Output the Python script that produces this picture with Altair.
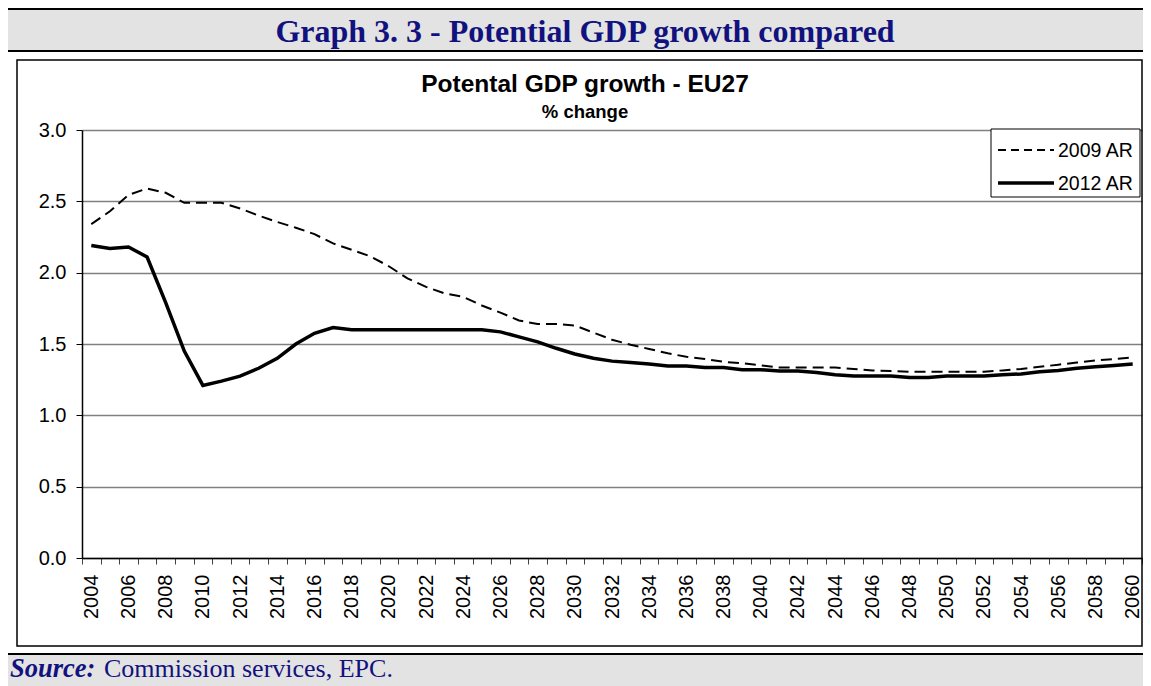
import altair as alt
import pandas as pd

# ---------------- data ----------------
years = list(range(2004, 2061))

ar2009 = [2.34, 2.43, 2.545, 2.59, 2.56, 2.49, 2.49, 2.49, 2.45, 2.40,
          2.355, 2.315, 2.27, 2.205, 2.16, 2.115, 2.045, 1.96, 1.90, 1.855,
          1.83, 1.77, 1.72, 1.665, 1.64, 1.64, 1.63, 1.58, 1.53, 1.495,
          1.465, 1.435, 1.41, 1.395, 1.375, 1.365, 1.35, 1.335, 1.335, 1.335,
          1.335, 1.325, 1.315, 1.31, 1.305, 1.305, 1.305, 1.305, 1.305, 1.315,
          1.325, 1.34, 1.355, 1.37, 1.385, 1.395, 1.405]

ar2012 = [2.19, 2.17, 2.18, 2.11, 1.79, 1.45, 1.21, 1.24, 1.275, 1.33,
          1.40, 1.50, 1.575, 1.615, 1.60, 1.60, 1.60, 1.60, 1.60, 1.60,
          1.60, 1.60, 1.585, 1.55, 1.515, 1.47, 1.43, 1.40, 1.38, 1.37,
          1.36, 1.345, 1.345, 1.335, 1.335, 1.32, 1.32, 1.31, 1.31, 1.30,
          1.285, 1.275, 1.275, 1.275, 1.265, 1.265, 1.275, 1.275, 1.275, 1.285,
          1.29, 1.305, 1.315, 1.33, 1.34, 1.35, 1.36]

series_names = ["2009 AR", "2012 AR"]
y_ticks = [0.0, 0.5, 1.0, 1.5, 2.0, 2.5, 3.0]

header_title = "Graph 3. 3 - Potential GDP growth compared"
chart_title = "Potental GDP growth - EU27"
chart_subtitle = "% change"
source_label = "Source:"
source_text = "Commission services, EPC."

df = pd.DataFrame({
    "year": years + years,
    "value": ar2009 + ar2012,
    "series": [series_names[0]] * len(years) + [series_names[1]] * len(years),
})

# ---------------- style ----------------
W, H = 1060, 428
SANS = "Liberation Sans"
SERIF = "Liberation Serif"
NAVY = "#12127e"
BAND = "#e3e3e3"
RIGHT = 1061  # right edge of the drawing, relative to the plot origin

one = alt.Data(values=[{"k": 0}])


def box(x, x2, y, y2, **kw):
    return alt.Chart(one).mark_rect(**kw).encode(
        x=alt.value(x), x2=alt.value(x2), y=alt.value(y), y2=alt.value(y2))


def hline(x, x2, y, **kw):
    return alt.Chart(one).mark_rule(**kw).encode(
        x=alt.value(x), x2=alt.value(x2), y=alt.value(y))


def label(x, y, txt, **kw):
    return alt.Chart(one).mark_text(**kw).encode(
        x=alt.value(x), y=alt.value(y), text=alt.value(txt))


x_enc = alt.X(
    "year:O",
    scale=alt.Scale(type="band", paddingInner=0, paddingOuter=0),
    axis=alt.Axis(
        title=None, labelAngle=270,
        labelExpr="datum.value % 2 == 0 ? datum.label : ''",
        labelOverlap=False, tickBand="extent",
        labelFont=SANS, labelFontSize=20, labelColor="black",
        labelPadding=10, tickColor="#404040", tickSize=6, tickWidth=1,
        domainColor="black", domainWidth=1.5, grid=False,
    ),
)
y_enc = alt.Y(
    "value:Q",
    scale=alt.Scale(domain=[0, 3], nice=False),
    axis=alt.Axis(
        title=None, values=y_ticks, format=".1f", grid=True,
        gridColor="#808080", gridWidth=1.3,
        domainColor="black", domainWidth=1.5,
        tickColor="black", tickSize=6,
        labelFont=SANS, labelFontSize=20, labelColor="black", labelPadding=10,
    ),
)

line09 = alt.Chart(df).transform_filter(
    alt.datum.series == series_names[0]
).mark_line(color="black", strokeWidth=2, strokeDash=[11, 6]).encode(x=x_enc, y=y_enc)

line12 = alt.Chart(df).transform_filter(
    alt.datum.series == series_names[1]
).mark_line(color="black", strokeWidth=3.5).encode(x=x_enc, y=y_enc)

# plot origin sits at page (82, 130)
header_band = box(-76, RIGHT, -121, -79, fill=BAND)
header_top = hline(-76, RIGHT, -121, color="black", strokeWidth=2)
header_bot = hline(-76, RIGHT, -79, color="black", strokeWidth=2)
header_txt = label(503, -88, header_title, font=SERIF, fontSize=32, fontWeight="bold",
                   color=NAVY, align="center", baseline="alphabetic")

frame = box(-65, 1060, -70, 516, fillOpacity=0, stroke="black", strokeWidth=1.5)
title_txt = label(503, -38, chart_title, font=SANS, fontSize=24.5, fontWeight="bold",
                  color="black", align="center", baseline="alphabetic")
subtitle_txt = label(503, -12, chart_subtitle, font=SANS, fontSize=18.5, fontWeight="bold",
                     color="black", align="center", baseline="alphabetic")

footer_band = box(-76, RIGHT, 524, 560, fill=BAND)
footer_line = hline(-76, RIGHT, 524, color="black", strokeWidth=2)
source_a = label(-72, 547, source_label, font=SERIF, fontSize=26.5, fontWeight="bold",
                 fontStyle="italic", color=NAVY, align="left", baseline="alphabetic")
source_b = label(22, 547, source_text, font=SERIF, fontSize=26,
                 color=NAVY, align="left", baseline="alphabetic")

# legend
leg_box = box(909, 1058, -1, 67, fill="white", stroke="black", strokeWidth=1)
leg_l1 = hline(916, 972, 20, color="black", strokeWidth=2, strokeDash=[8, 5])
leg_l2 = hline(916, 972, 53, color="black", strokeWidth=3.5)
leg_t1 = label(976, 27, series_names[0], font=SANS, fontSize=19.5, color="black",
               align="left", baseline="alphabetic")
leg_t2 = label(976, 60, series_names[1], font=SANS, fontSize=19.5, color="black",
               align="left", baseline="alphabetic")

chart = alt.layer(
    header_band, header_top, header_bot, header_txt,
    frame, title_txt, subtitle_txt,
    footer_band, footer_line, source_a, source_b,
    line09, line12,
    leg_box, leg_l1, leg_l2, leg_t1, leg_t2,
).properties(
    width=W, height=H,
    padding={"left": 74, "top": 122, "right": 1, "bottom": 128},
    autosize=alt.AutoSizeParams(type="none"),
    background="white",
).configure_view(strokeWidth=0)

chart.save("out.html", embed_options={"renderer": "svg", "actions": False})
